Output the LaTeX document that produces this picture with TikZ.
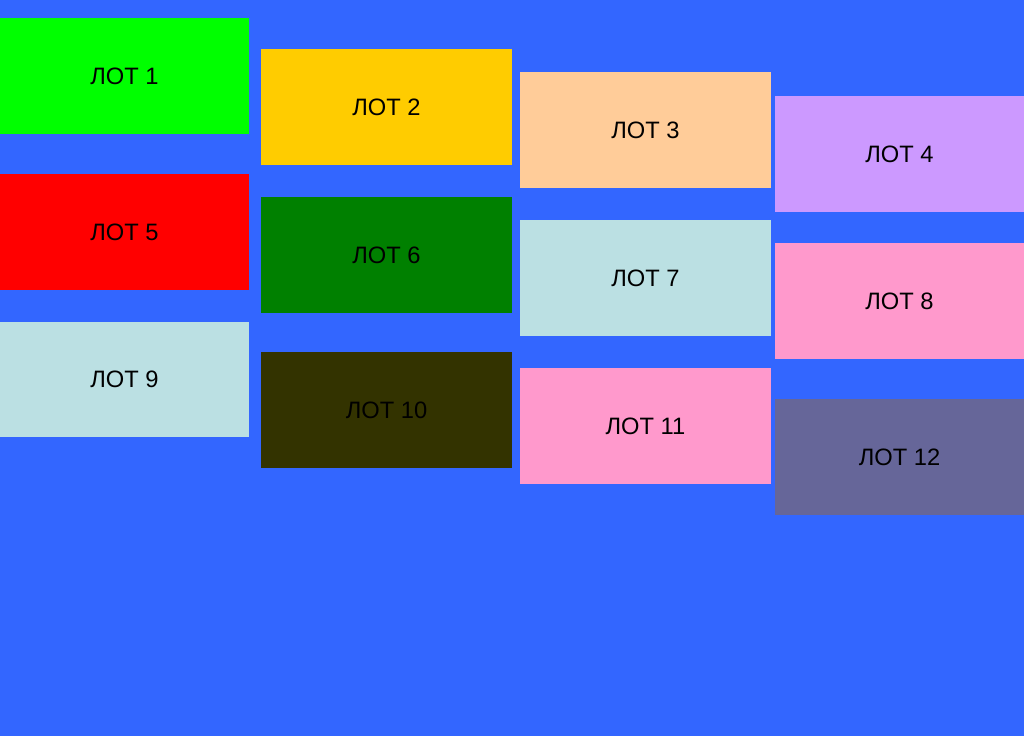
\documentclass[tikz,border=0pt]{standalone}
\usepackage{fontspec}
\setmainfont{Liberation Sans}
\usetikzlibrary{positioning}
\definecolor{bgblue}{HTML}{3366FF}
\definecolor{lotgreen}{HTML}{00FF00}
\definecolor{lotgold}{HTML}{FFCC00}
\definecolor{lotpeach}{HTML}{FFCC99}
\definecolor{lotlilac}{HTML}{CC99FF}
\definecolor{lotred}{HTML}{FF0000}
\definecolor{lotdkgreen}{HTML}{008000}
\definecolor{lotpale}{HTML}{BBE0E3}
\definecolor{lotpink}{HTML}{FF99CC}
\definecolor{lotolive}{HTML}{333300}
\definecolor{lotslate}{HTML}{666699}

\begin{document}
\begin{tikzpicture}[x=0.02cm,y=-0.02cm,
 lot/.style={rectangle,inner sep=0pt,minimum width=4.98cm,minimum height=2.32cm,
  font=\fontsize{13.5}{16}\selectfont,text=black}]
\fill[bgblue] (0,0) rectangle (1024,736);
\useasboundingbox (0,0) rectangle (1024,736);
% first column
\node[lot,fill=lotgreen] (lot1) at (124.5,76) {ЛОТ 1};
\node[lot,fill=lotred] (lot5) at (124.5,232) {ЛОТ 5};
\node[lot,fill=lotpale] (lot9) at (124.5,379.5) {ЛОТ 9};
% second column
\node[lot,fill=lotgold,minimum width=5.02cm] (lot2) at (386.5,107) {ЛОТ 2};
\node[lot,fill=lotdkgreen,minimum width=5.02cm] (lot6) at (386.5,255) {ЛОТ 6};
\node[lot,fill=lotolive,minimum width=5.02cm] (lot10) at (386.5,410) {ЛОТ 10};
% third column
\node[lot,fill=lotpeach,minimum width=5.02cm] (lot3) at (645.5,130) {ЛОТ 3};
\node[lot,fill=lotpale,minimum width=5.02cm] (lot7) at (645.5,278) {ЛОТ 7};
\node[lot,fill=lotpink,minimum width=5.02cm] (lot11) at (645.5,426) {ЛОТ 11};
% fourth column
\node[lot,fill=lotlilac] (lot4) at (899.5,154) {ЛОТ 4};
\node[lot,fill=lotpink] (lot8) at (899.5,301) {ЛОТ 8};
\node[lot,fill=lotslate] (lot12) at (899.5,457) {ЛОТ 12};
\end{tikzpicture}
\end{document}
